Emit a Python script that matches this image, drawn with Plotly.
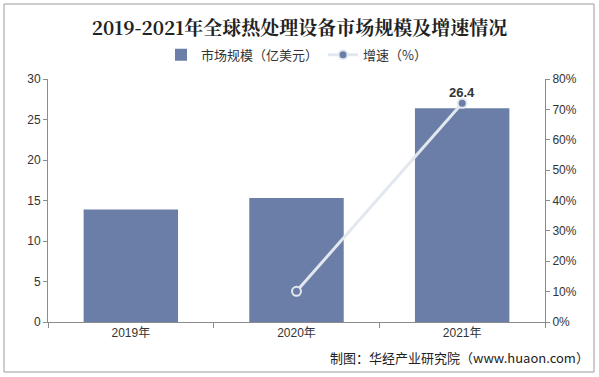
import plotly.graph_objects as go

years = ["2019年", "2020年", "2021年"]
market_size = [13.9, 15.3, 26.4]          # 亿美元
growth_years = ["2020年", "2021年"]
growth_rate = [10.1, 72.0]                # %
left_ticks = [0, 5, 10, 15, 20, 25, 30]
right_ticks = [0, 10, 20, 30, 40, 50, 60, 70, 80]

BAR = "#6a7ea7"
LINE = "#e2e7f0"
AXIS = "#8c8c8c"
FONT = "Liberation Sans, Arial, Noto Sans CJK SC, sans-serif"

fig = go.Figure()
fig.add_trace(go.Bar(
    x=years, y=market_size, name="市场规模（亿美元）",
    marker=dict(color=BAR, line=dict(width=0)), width=0.57,
))
fig.add_trace(go.Scatter(
    x=growth_years, y=growth_rate, name="增速（%）", yaxis="y2",
    mode="lines+markers",
    line=dict(color=LINE, width=3),
    marker=dict(size=9, color=BAR, line=dict(color=LINE, width=2)),
))

fig.add_annotation(x=years[2], y=market_size[2], text=f"<b>{market_size[2]}</b>",
                   showarrow=False, yanchor="bottom", yshift=6,
                   font=dict(size=13, color="#333333", family=FONT))

fig.update_layout(
    width=599, height=377,
    margin=dict(l=48, r=54, t=79, b=55),
    paper_bgcolor="white", plot_bgcolor="white",
    font=dict(family=FONT, size=12, color="#333333"),
    showlegend=True,
    title=dict(text="<b>2019-2021年全球热处理设备市场规模及增速情况</b>",
               x=0.5, xanchor="center", y=0.925, yanchor="middle",
               font=dict(family="Noto Serif CJK SC, Noto Sans CJK SC, serif", size=19, color="#222222")),
    legend=dict(orientation="h", x=0.5, xanchor="center", y=1.10, yanchor="middle",
                font=dict(size=13, family="Noto Sans CJK SC, sans-serif", color="#333333"),
                traceorder="normal", itemwidth=30),
    xaxis=dict(type="category", range=[-0.5, 2.5], showline=True, linecolor=AXIS, linewidth=1,
               ticks="outside", tickson="boundaries", ticklen=5, tickcolor=AXIS,
               showgrid=False, tickfont=dict(size=12, color="#333333")),
    yaxis=dict(range=[0, 30], tickvals=left_ticks, showline=True, linecolor=AXIS, linewidth=1,
               ticks="outside", ticklen=4, tickcolor=AXIS, showgrid=False, zeroline=False,
               tickfont=dict(size=12, color="#333333")),
    yaxis2=dict(range=[0, 80], tickvals=right_ticks, ticktext=[f"{v}%" for v in right_ticks],
                overlaying="y", side="right", showline=True, linecolor=AXIS, linewidth=1,
                ticks="outside", ticklen=4, tickcolor=AXIS, showgrid=False, zeroline=False,
                tickfont=dict(size=12, color="#333333")),
)

# outer frame
fig.add_shape(type="rect", xref="paper", yref="paper",
              x0=(4 - 48) / 497, x1=(594 - 48) / 497,
              y0=(322 - 372) / 243, y1=(322 - 4) / 243,
              line=dict(color="#9a9a9a", width=1), fillcolor="rgba(0,0,0,0)", layer="below")

fig.add_annotation(text="制图：华经产业研究院（www.huaon.com）", xref="paper", yref="paper",
                   x=(591 - 48) / 497, y=(322 - 357) / 243, xanchor="right", yanchor="middle",
                   showarrow=False, font=dict(size=13, family="Noto Sans CJK SC, sans-serif", color="#222222"))

fig.write_html("out.html", config={"displayModeBar": False},
               post_script="document.body.style.margin='0';document.body.style.padding='0';document.body.style.overflow='hidden';")
